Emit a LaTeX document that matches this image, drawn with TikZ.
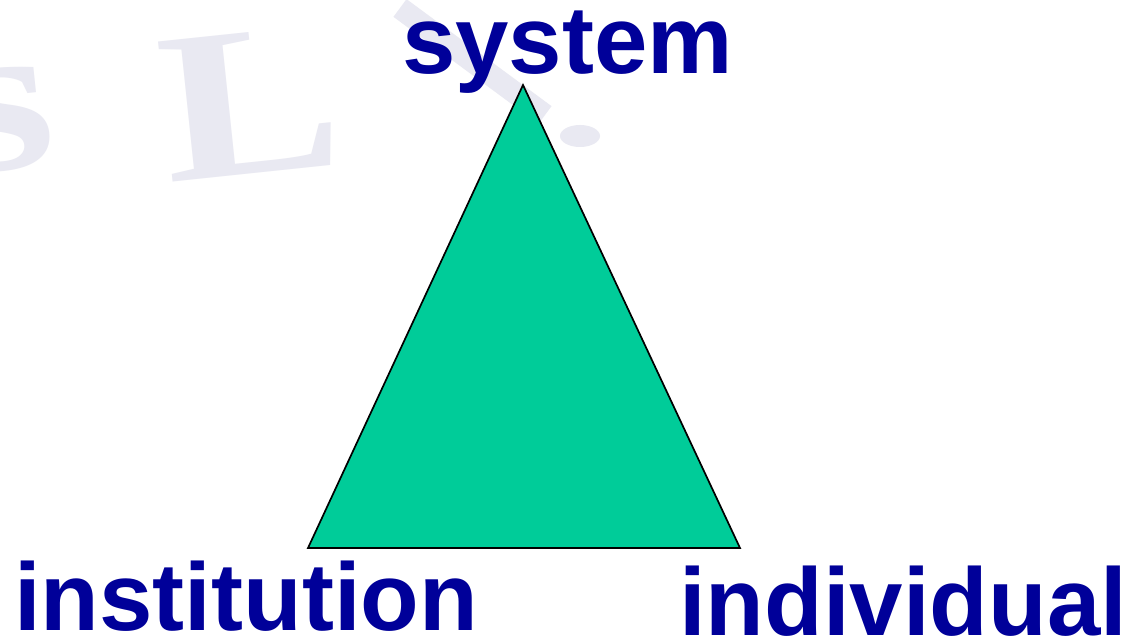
\documentclass[tikz,border=0pt]{standalone}
\usepackage{fontspec}
\setmainfont{Liberation Sans}
\newfontfamily\wmfont{Liberation Serif}
\definecolor{trifill}{HTML}{00CC99}
\definecolor{labelblue}{HTML}{000099}
\definecolor{wmgray}{RGB}{233,233,242}
\tikzset{
  lbl/.style={anchor=base west, inner sep=0pt, text=labelblue,
    font=\fontsize{96}{96}\selectfont\bfseries},
  wm/.style={anchor=base west, inner sep=0pt, text=wmgray, rotate=6, xscale=1.25,
    font=\fontsize{215}{215}\selectfont\wmfont\bfseries},
  tri/.style={fill=trifill, draw=black, line width=1.7pt, line join=miter}
}
\begin{document}
\begin{tikzpicture}[x=1pt,y=1pt]
\useasboundingbox (0,0) rectangle (1134,637);
\fill[white] (0,0) rectangle (1134,637);
% watermark
\node[wm] (wms) at (-45,462) {s};
\node[wm] (wml) at (168,454) {L};
\draw[wmgray, line width=22pt] (400,629) -- (545,522);
\fill[wmgray] (580,501) ellipse [x radius=20, y radius=11];
% triangle
\coordinate (apex) at (523,552);
\coordinate (bl) at (308,89);
\coordinate (br) at (740,89);
\draw[tri] (apex) -- (bl) -- (br) -- cycle;
% labels
\node[lbl] (system) at (402,563) {system};
\node[lbl] (institution) at (14,7) {institution};
\node[lbl] (individual) at (679,2) {individual};
\end{tikzpicture}
\end{document}
